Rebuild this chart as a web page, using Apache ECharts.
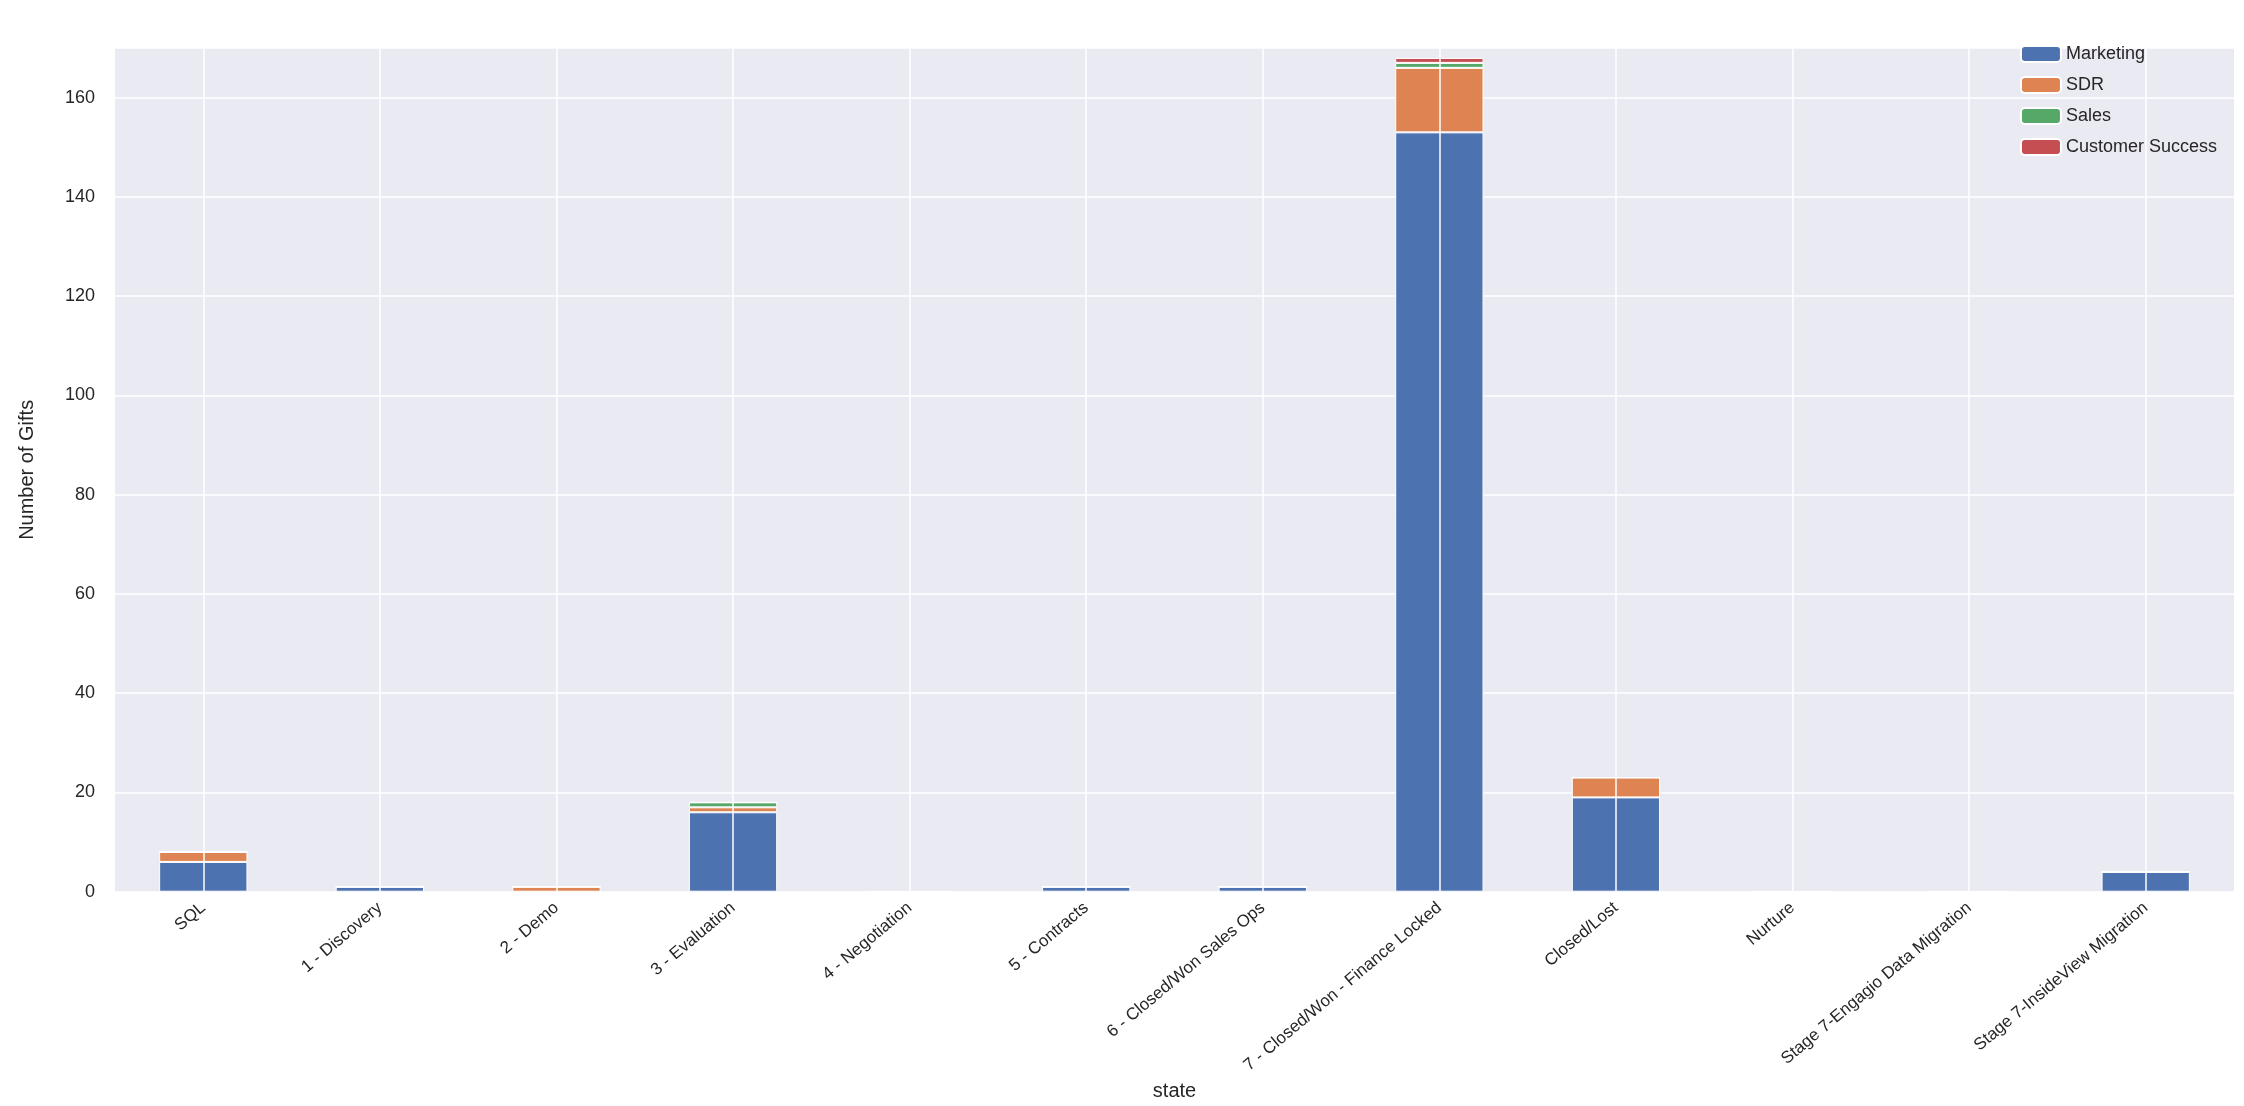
<!DOCTYPE html>
<html>
<head>
<meta charset="utf-8">
<script src="https://cdn.jsdelivr.net/npm/echarts@6/dist/echarts.min.js"></script>
<style>html,body{margin:0;background:#fff}#main{width:2244px;height:1106px}</style>
</head>
<body>
<div id="main"></div>
<script>
const states = ["SQL", "1 - Discovery", "2 - Demo", "3 - Evaluation", "4 - Negotiation", "5 - Contracts",
  "6 - Closed/Won Sales Ops", "7 - Closed/Won - Finance Locked", "Closed/Lost", "Nurture",
  "Stage 7-Engagio Data Migration", "Stage 7-InsideView Migration"];
const marketing = [6, 1, 0, 16, 0, 1, 1, 153, 19, 0, 0, 4];
const sdr = [2, 0, 1, 1, 0, 0, 0, 13, 4, 0, 0, 0];
const sales = [0, 0, 0, 1, 0, 0, 0, 1, 0, 0, 0, 0];
const customerSuccess = [0, 0, 0, 0, 0, 0, 0, 1, 0, 0, 0, 0];

const colors = ["#4c72b0", "#dd8452", "#55a868", "#c44e52"];
function mk(name, data, i) {
  return { name: name, type: "bar", stack: "s", data: data, barWidth: "50%", z: 3,
    itemStyle: { color: colors[i], borderColor: "#fff", borderWidth: 1 } };
}
// vertical grid lines sit at category centres, like seaborn
const gridLines = {
  type: "line", data: [], z: 1, silent: true,
  markLine: { silent: true, symbol: "none", label: { show: false },
    lineStyle: { color: "#fff", width: 1.5, type: "solid" },
    data: states.map(s => ({ xAxis: s })) }
};
var myChart = echarts.init(document.getElementById("main"));
myChart.setOption({
  animation: false,
  textStyle: { fontFamily: "Liberation Sans, Arial, sans-serif" },
  grid: { left: 115, right: 10, top: 48, bottom: 151, backgroundColor: "#eaeaf2", show: true, borderWidth: 0 },
  legend: {
    orient: "vertical", right: 22, top: 40, itemWidth: 40, itemHeight: 16, itemGap: 13,
    textStyle: { fontSize: 18, color: "#262626" },
    data: ["Marketing", "SDR", "Sales", "Customer Success"]
  },
  xAxis: {
    type: "category", data: states, name: "state", nameLocation: "middle", nameGap: 125,
    nameTextStyle: { fontSize: 20, color: "#262626" },
    axisLine: { show: false }, axisTick: { show: false },
    axisLabel: { interval: 0, rotate: 40, fontSize: 17, color: "#262626", margin: 14 },
    splitLine: { show: false }
  },
  yAxis: {
    type: "value", min: 0, max: 170, interval: 20, name: "Number of Gifts", nameLocation: "middle", nameGap: 78,
    nameTextStyle: { fontSize: 20, color: "#262626" },
    axisLine: { show: false }, axisTick: { show: false },
    axisLabel: { fontSize: 18, color: "#262626", showMaxLabel: false, margin: 20 },
    splitLine: { lineStyle: { color: "#fff", width: 1.5 } }
  },
  series: [gridLines, mk("Marketing", marketing, 0), mk("SDR", sdr, 1), mk("Sales", sales, 2), mk("Customer Success", customerSuccess, 3)]
});
</script>
</body>
</html>
